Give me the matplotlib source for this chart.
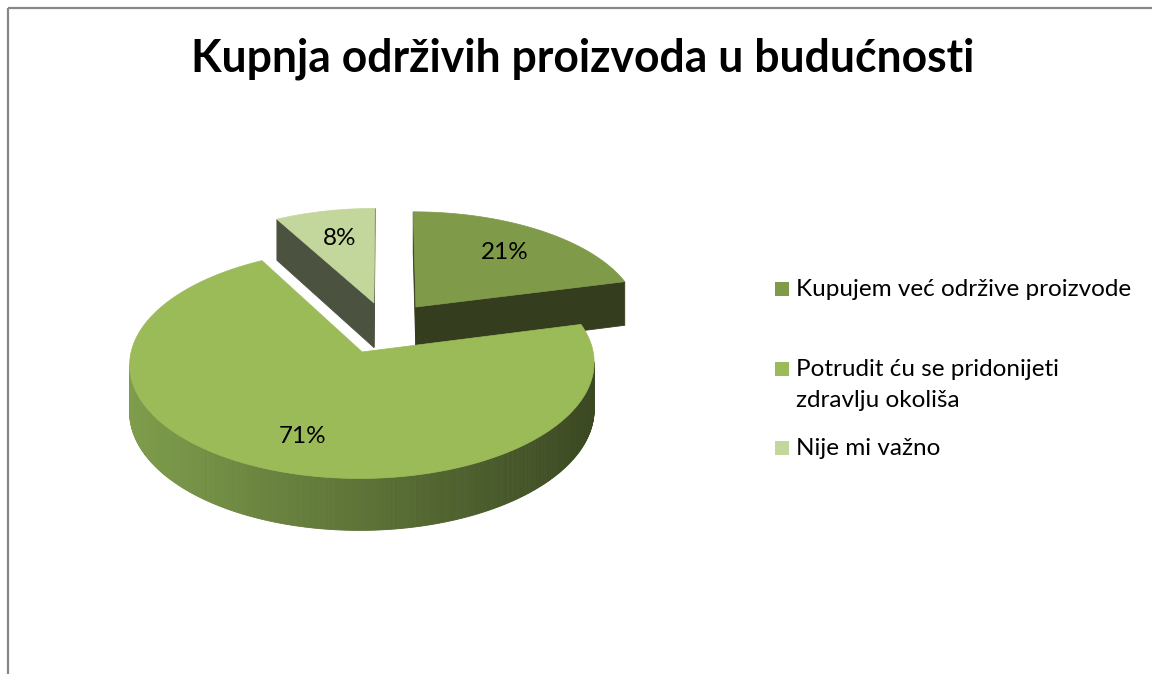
import numpy as np
import matplotlib
matplotlib.use("Agg")
import matplotlib.pyplot as plt
from matplotlib.patches import Polygon, Rectangle

title = "Kupnja održivih proizvoda u budućnosti"
categories = ["Kupujem već održive proizvode",
              "Potrudit ću se pridonijeti\nzdravlju okoliša",
              "Nije mi važno"]
values = [21, 71, 8]
pct_labels = ["21%", "71%", "8%"]
explode = [0.22, 0.26, 0.22]

top_colors = ["#7f9a48", "#9bbb59", "#c3d69b"]
cut_colors = ["#343d1e", "#3b4721", "#4b5240"]
side_left = np.array(matplotlib.colors.to_rgb("#7e9d4b"))
side_right = np.array(matplotlib.colors.to_rgb("#3b4822"))

FONT = "Lato"

# pie geometry in pixels (simple perspective)
CX, CY = 386.0, 325.5
RX, RY = 225.5, 108.2
K = 0.1
DEPTH = 45.5


def proj(x, y, z=0.0):
    s = 1.0 / (1.0 + K * np.asarray(y))
    return CX + RX * np.asarray(x) * s, CY + (-RY * np.asarray(y) + DEPTH * z) * s


fig = plt.figure(figsize=(11.52, 6.74), dpi=100)
ax = fig.add_axes([0, 0, 1, 1])
ax.set_xlim(0, 1152)
ax.set_ylim(674, 0)
ax.axis("off")

# chart frame
ax.plot([7.5, 1152], [7.5, 7.5], color="#878787", lw=1.6, solid_capstyle="butt")
ax.plot([7.5, 7.5], [7.5, 674], color="#878787", lw=1.6, solid_capstyle="butt")

total = float(sum(values))
slices = []
start = 0.0
for i, v in enumerate(values):
    t0, t1 = start, start + v / total * 360.0
    start = t1
    mid = np.radians((t0 + t1) / 2)
    ox, oy = explode[i] * np.sin(mid), explode[i] * np.cos(mid)
    slices.append((i, t0, t1, mid, ox, oy))

x_left = proj(-1.0 + slices[1][4], slices[1][5])[0]
x_right = proj(1.0 + slices[1][4], slices[1][5])[0]

for i, t0, t1, mid, ox, oy in sorted(slices, key=lambda s: -s[5]):
    th = np.radians(np.linspace(t0, t1, max(8, int((t1 - t0) * 2))))
    wx = np.concatenate([[ox], ox + np.sin(th), [ox]])
    wy = np.concatenate([[oy], oy + np.cos(th), [oy]])
    n = len(wx) - 1
    for j in range(n):
        xa, ya = proj(wx[j], wy[j])
        xb, yb = proj(wx[j + 1], wy[j + 1])
        xc, yc = proj(wx[j + 1], wy[j + 1], 1)
        xd, yd = proj(wx[j], wy[j], 1)
        qx = [xa, xb, xc, xd]
        qy = [ya, yb, yc, yd]
        area = sum(qx[k] * qy[(k + 1) % 4] - qx[(k + 1) % 4] * qy[k] for k in range(4))
        if area >= 0:
            continue
        if j == 0 or j == n - 1:
            col = cut_colors[i]
        else:
            t = np.clip(((xa + xb) / 2 - x_left) / (x_right - x_left), 0, 1)
            col = side_left * (1 - t) + side_right * t
        ax.add_patch(Polygon(np.column_stack([qx, qy]), closed=True,
                             facecolor=col, edgecolor=col, lw=0.6))
    px, py = proj(wx, wy)
    ax.add_patch(Polygon(np.column_stack([px, py]), closed=True,
                         facecolor=top_colors[i], edgecolor=top_colors[i], lw=0.5))

renderer = fig.canvas.get_renderer()


def fit_width(t, target):
    w = t.get_window_extent(renderer).width
    t.set_fontsize(t.get_fontsize() * target / w)


tt = ax.text(583, 72, title, ha="center", va="baseline", fontsize=30,
             fontweight="bold", family=FONT, color="black")
fit_width(tt, 784)

# legend
leg_y = [296, 376, 455]
first = None
for i, lab in enumerate(categories):
    ax.add_patch(Rectangle((775, leg_y[i] - 14), 14, 14, facecolor=top_colors[i],
                           edgecolor="none"))
    lines = lab.split("\n")
    for k, line in enumerate(lines):
        t = ax.text(796, leg_y[i] + 31 * k, line, ha="left", va="baseline",
                    fontsize=14, family=FONT, color="black")
        if first is None:
            first = t
            fit_width(t, 336)
        else:
            t.set_fontsize(first.get_fontsize())
label_size = first.get_fontsize()

# percentage labels on the slice tops
label_r = [0.7, 0.73, 0.68]
label_turn = [0.0, -5.0, 0.0]
for i, t0, t1, mid, ox, oy in slices:
    a = mid + np.radians(label_turn[i])
    lx, ly = proj(ox + label_r[i] * np.sin(a), oy + label_r[i] * np.cos(a))
    ax.text(lx, ly, pct_labels[i], ha="center", va="center",
            fontsize=label_size, family=FONT, color="black")

fig.savefig("out.png", dpi=100)
